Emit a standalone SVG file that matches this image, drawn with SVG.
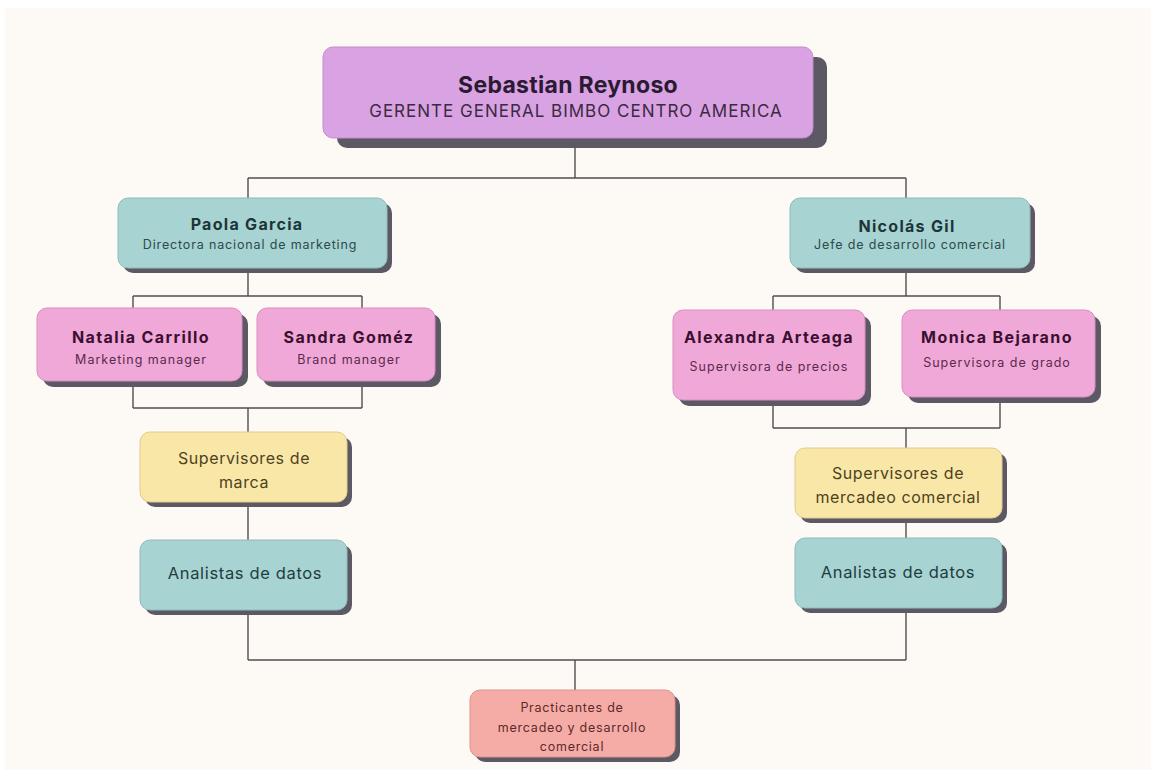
<svg xmlns="http://www.w3.org/2000/svg" width="1151" height="770" viewBox="0 0 1151 770">
<style>
.bg{fill:#fdfaf6}
.sh{fill:#5c5864}
.purple{fill:#d9a2e2;stroke:#c48ccc;stroke-width:1}
.teal{fill:#a7d3d2;stroke:#8fbdbc;stroke-width:1}
.pink{fill:#f0a8d8;stroke:#d98fc1;stroke-width:1}
.yellow{fill:#f9e7a8;stroke:#e0cc8c;stroke-width:1}
.salmon{fill:#f6aca6;stroke:#dc928d;stroke-width:1}
text{font-family:Inter,"Liberation Sans",sans-serif;text-anchor:middle}
.t1{font-size:23px;font-weight:700;fill:#2b1a33;letter-spacing:0.3px}
.s1{font-size:17px;fill:#3a2a42;letter-spacing:1px}
.tt{font-size:16px;font-weight:700;fill:#1d3537;letter-spacing:1.3px}
.st{font-size:12.5px;fill:#2d4a4c;letter-spacing:0.85px}
.tp{font-size:16px;font-weight:700;fill:#3a0f2f;letter-spacing:1.4px}
.sp{font-size:12.5px;fill:#5a2a4c;letter-spacing:1px}
.ty{font-size:16px;fill:#4d4220;letter-spacing:0.6px}
.ta{font-size:16.5px;fill:#1f3d40;letter-spacing:0.65px}
.ts{font-size:12.5px;fill:#5a2a2a;letter-spacing:0.75px}
.conn line{stroke:#4e4e4e;stroke-width:1.4}
</style>
<rect x="0" y="0" width="1151" height="770" fill="#ffffff"/>
<rect class="bg" x="5" y="8" width="1146" height="762"/>
<g class="conn">
<line x1="575" y1="138" x2="575" y2="178"/>
<line x1="248" y1="178" x2="906" y2="178"/>
<line x1="248" y1="178" x2="248" y2="198"/>
<line x1="906" y1="178" x2="906" y2="198"/>
<line x1="248" y1="268" x2="248" y2="296"/>
<line x1="133" y1="296" x2="362" y2="296"/>
<line x1="133" y1="296" x2="133" y2="308"/>
<line x1="362" y1="296" x2="362" y2="308"/>
<line x1="133" y1="381" x2="133" y2="408"/>
<line x1="362" y1="381" x2="362" y2="408"/>
<line x1="133" y1="408" x2="362" y2="408"/>
<line x1="248" y1="408" x2="248" y2="432"/>
<line x1="248" y1="502" x2="248" y2="540"/>
<line x1="906" y1="268" x2="906" y2="296"/>
<line x1="773" y1="296" x2="1000" y2="296"/>
<line x1="773" y1="296" x2="773" y2="310"/>
<line x1="1000" y1="296" x2="1000" y2="310"/>
<line x1="773" y1="400" x2="773" y2="428"/>
<line x1="1000" y1="397" x2="1000" y2="428"/>
<line x1="773" y1="428" x2="1000" y2="428"/>
<line x1="906" y1="428" x2="906" y2="448"/>
<line x1="906" y1="518" x2="906" y2="538"/>
<line x1="248" y1="610" x2="248" y2="660"/>
<line x1="906" y1="608" x2="906" y2="660"/>
<line x1="248" y1="660" x2="906" y2="660"/>
<line x1="575" y1="660" x2="575" y2="690"/>
</g>
<g id="sebastian">
<rect class="sh" x="337" y="57" width="490" height="91" rx="10"/>
<rect class="purple" x="323" y="47" width="490" height="91" rx="10"/>
<text class="t1" x="568" y="93">Sebastian Reynoso</text>
<text class="s1" x="576" y="117">GERENTE GENERAL BIMBO CENTRO AMERICA</text>
</g>
<g id="paola">
<rect class="sh" x="123" y="203" width="269" height="70" rx="10"/>
<rect class="teal" x="118" y="198" width="269" height="70" rx="10"/>
<text class="tt" x="247" y="230">Paola Garcia</text>
<text class="st" x="250" y="249">Directora nacional de marketing</text>
</g>
<g id="nicolas">
<rect class="sh" x="795" y="203" width="240" height="70" rx="10"/>
<rect class="teal" x="790" y="198" width="240" height="70" rx="10"/>
<text class="tt" x="907" y="232">Nicolás Gil</text>
<text class="st" x="910" y="249">Jefe de desarrollo comercial</text>
</g>
<g id="natalia">
<rect class="sh" x="43" y="314" width="205" height="73" rx="10"/>
<rect class="pink" x="37" y="308" width="205" height="73" rx="10"/>
<text class="tp" x="141" y="343">Natalia Carrillo</text>
<text class="sp" x="141" y="364">Marketing manager</text>
</g>
<g id="sandra">
<rect class="sh" x="263" y="314" width="178" height="73" rx="10"/>
<rect class="pink" x="257" y="308" width="178" height="73" rx="10"/>
<text class="tp" x="349" y="343">Sandra Goméz</text>
<text class="sp" x="349" y="364">Brand manager</text>
</g>
<g id="alexandra">
<rect class="sh" x="679" y="316" width="192" height="90" rx="10"/>
<rect class="pink" x="673" y="310" width="192" height="90" rx="10"/>
<text class="tp" x="769" y="343">Alexandra Arteaga</text>
<text class="sp" x="769" y="371">Supervisora de precios</text>
</g>
<g id="monica">
<rect class="sh" x="908" y="316" width="193" height="87" rx="10"/>
<rect class="pink" x="902" y="310" width="193" height="87" rx="10"/>
<text class="tp" x="997" y="343">Monica Bejarano</text>
<text class="sp" x="997" y="367">Supervisora de grado</text>
</g>
<g id="sup-marca">
<rect class="sh" x="145" y="437" width="207" height="70" rx="10"/>
<rect class="yellow" x="140" y="432" width="207" height="70" rx="10"/>
<text class="ty" x="244" y="464">Supervisores de</text>
<text class="ty" x="244" y="488">marca</text>
</g>
<g id="analistas-izq">
<rect class="sh" x="145" y="545" width="207" height="70" rx="10"/>
<rect class="teal" x="140" y="540" width="207" height="70" rx="10"/>
<text class="ta" x="245" y="579">Analistas de datos</text>
</g>
<g id="sup-mercadeo">
<rect class="sh" x="800" y="453" width="207" height="70" rx="10"/>
<rect class="yellow" x="795" y="448" width="207" height="70" rx="10"/>
<text class="ty" x="898" y="479">Supervisores de</text>
<text class="ty" x="898" y="503">mercadeo comercial</text>
</g>
<g id="analistas-der">
<rect class="sh" x="800" y="543" width="207" height="70" rx="10"/>
<rect class="teal" x="795" y="538" width="207" height="70" rx="10"/>
<text class="ta" x="898" y="578">Analistas de datos</text>
</g>
<g id="practicantes">
<rect class="sh" x="475" y="695" width="205" height="67" rx="10"/>
<rect class="salmon" x="470" y="690" width="205" height="67" rx="10"/>
<text class="ts" x="572" y="712">Practicantes de</text>
<text class="ts" x="572" y="732">mercadeo y desarrollo</text>
<text class="ts" x="572" y="751">comercial</text>
</g>
</svg>
